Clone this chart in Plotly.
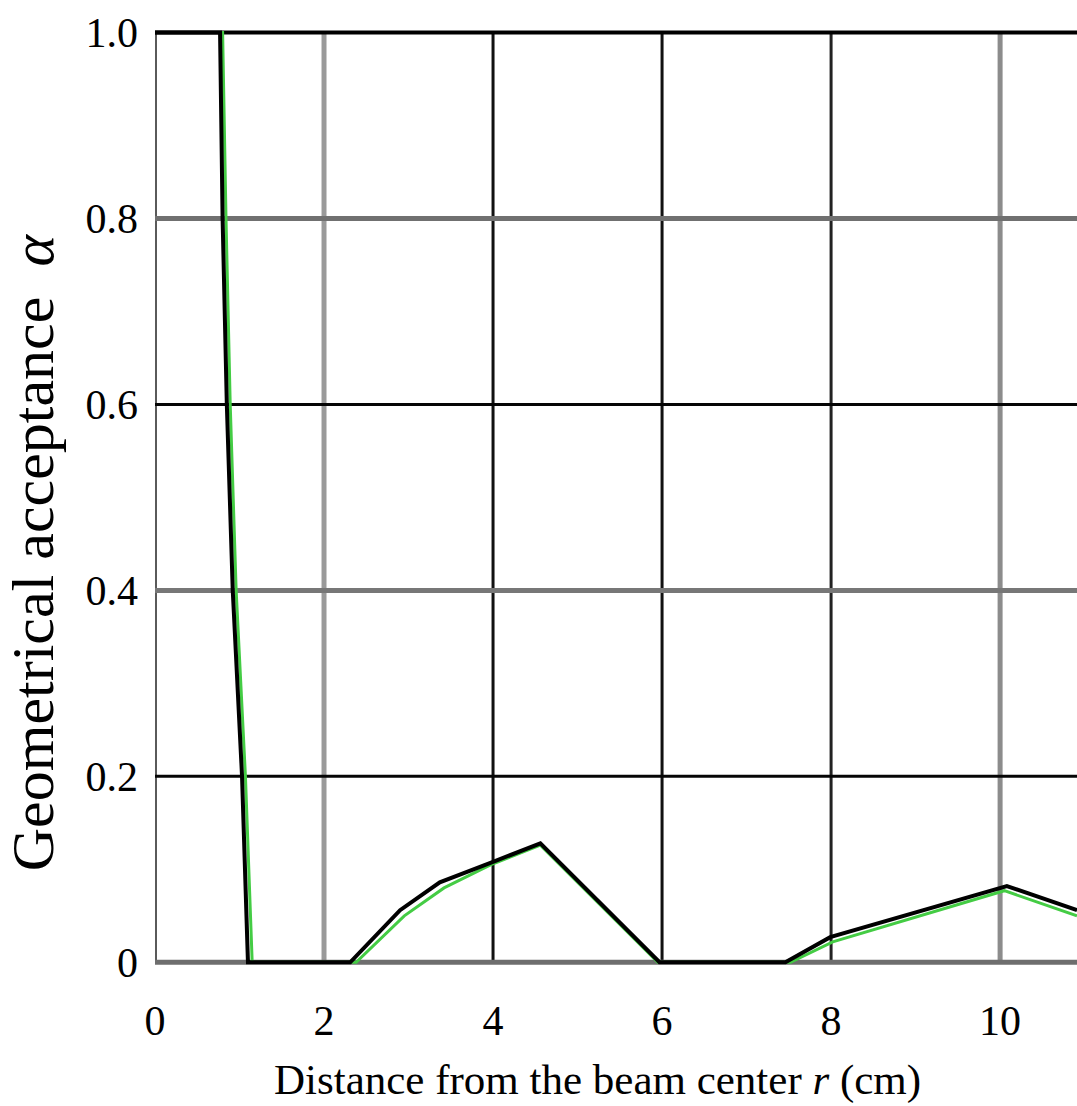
import plotly.graph_objects as go

# Data
r_black = [0.0, 0.77, 0.80, 0.85, 0.92, 1.03, 1.10, 2.31, 2.90, 3.37, 4.00, 4.56, 5.97, 7.46, 7.99, 10.08, 10.91]
a_black = [1.0, 1.0, 0.80, 0.60, 0.40, 0.20, 0.0, 0.0, 0.056, 0.086, 0.108, 0.128, 0.0, 0.0, 0.027, 0.082, 0.056]

r_green = [0.0, 0.80, 0.84, 0.89, 0.96, 1.07, 1.15, 2.38, 2.95, 3.42, 4.00, 4.56, 5.95, 7.52, 8.02, 10.05, 10.91]
a_green = [1.0, 1.0, 0.80, 0.60, 0.40, 0.20, 0.0, 0.0, 0.050, 0.080, 0.106, 0.126, 0.0, 0.0, 0.022, 0.077, 0.050]

x_ticks = [0, 2, 4, 6, 8, 10]
y_ticks = [0, 0.2, 0.4, 0.6, 0.8, 1.0]
y_tick_text = ["0", "0.2", "0.4", "0.6", "0.8", "1.0"]

# gridline styles (position, colour, width)
v_grid = [(0, "#5a5a5a", 4), (2, "#9a9a9a", 5), (4, "#111111", 3), (6, "#111111", 3), (8, "#222222", 3), (10, "#8c8c8c", 5)]
h_grid = [(0, "#6e6e6e", 5), (0.2, "#050505", 3), (0.4, "#777777", 5), (0.6, "#050505", 3), (0.8, "#707070", 5), (1.0, "#000000", 4)]

X_MAX = 10.91
Y_MIN, Y_MAX = -0.004, 1.006

fig = go.Figure()
fig.add_trace(go.Scatter(x=r_green, y=a_green, mode="lines",
                         line=dict(color="#44cc44", width=3), showlegend=False))
fig.add_trace(go.Scatter(x=r_black, y=a_black, mode="lines",
                         line=dict(color="#000000", width=4), showlegend=False))

shapes = []
for xv, col, w in v_grid:
    shapes.append(dict(type="line", xref="x", yref="y", x0=xv, x1=xv, y0=0, y1=1.0,
                       line=dict(color=col, width=w), layer="below"))
for yv, col, w in h_grid:
    shapes.append(dict(type="line", xref="x", yref="y", x0=0, x1=X_MAX, y0=yv, y1=yv,
                       line=dict(color=col, width=w), layer="below"))

FONT = "Liberation Serif"

# plot area: y=1.0 at ~33 px, y=0 at ~962 px
top_px = 33 - (Y_MAX - 1.0) * 929
bot_px = 962 + (0 - Y_MIN) * 929
H = bot_px - top_px

fig.update_layout(
    width=1077, height=1106,
    margin=dict(l=155, r=0, t=top_px, b=1106 - bot_px),
    paper_bgcolor="white", plot_bgcolor="white",
    shapes=shapes,
    xaxis=dict(range=[0, X_MAX], tickvals=x_ticks, ticktext=[str(v) for v in x_ticks],
               showgrid=False, zeroline=False, showline=False,
               tickfont=dict(family=FONT, size=42, color="black"),
               ticklabelstandoff=26),
    yaxis=dict(range=[Y_MIN, Y_MAX], tickvals=y_ticks, ticktext=y_tick_text,
               showgrid=False, zeroline=False, showline=False,
               tickfont=dict(family=FONT, size=42, color="black"),
               ticklabelstandoff=16),
    annotations=[
        dict(text="Distance from the beam center <i>r</i> (cm)", xref="paper", yref="paper",
             x=(597 - 155) / 922, y=(bot_px - 1080) / H, xanchor="center", yanchor="middle",
             showarrow=False,
             font=dict(family=FONT, size=43, color="black")),
        dict(text="Geometrical acceptance  <i>α</i>", xref="paper", yref="paper",
             x=-0.17, y=(bot_px - 552) / H, xanchor="left", yanchor="middle",
             textangle=-90, showarrow=False,
             font=dict(family=FONT, size=60, color="black")),
    ],
)

fig.write_html("out.html")
